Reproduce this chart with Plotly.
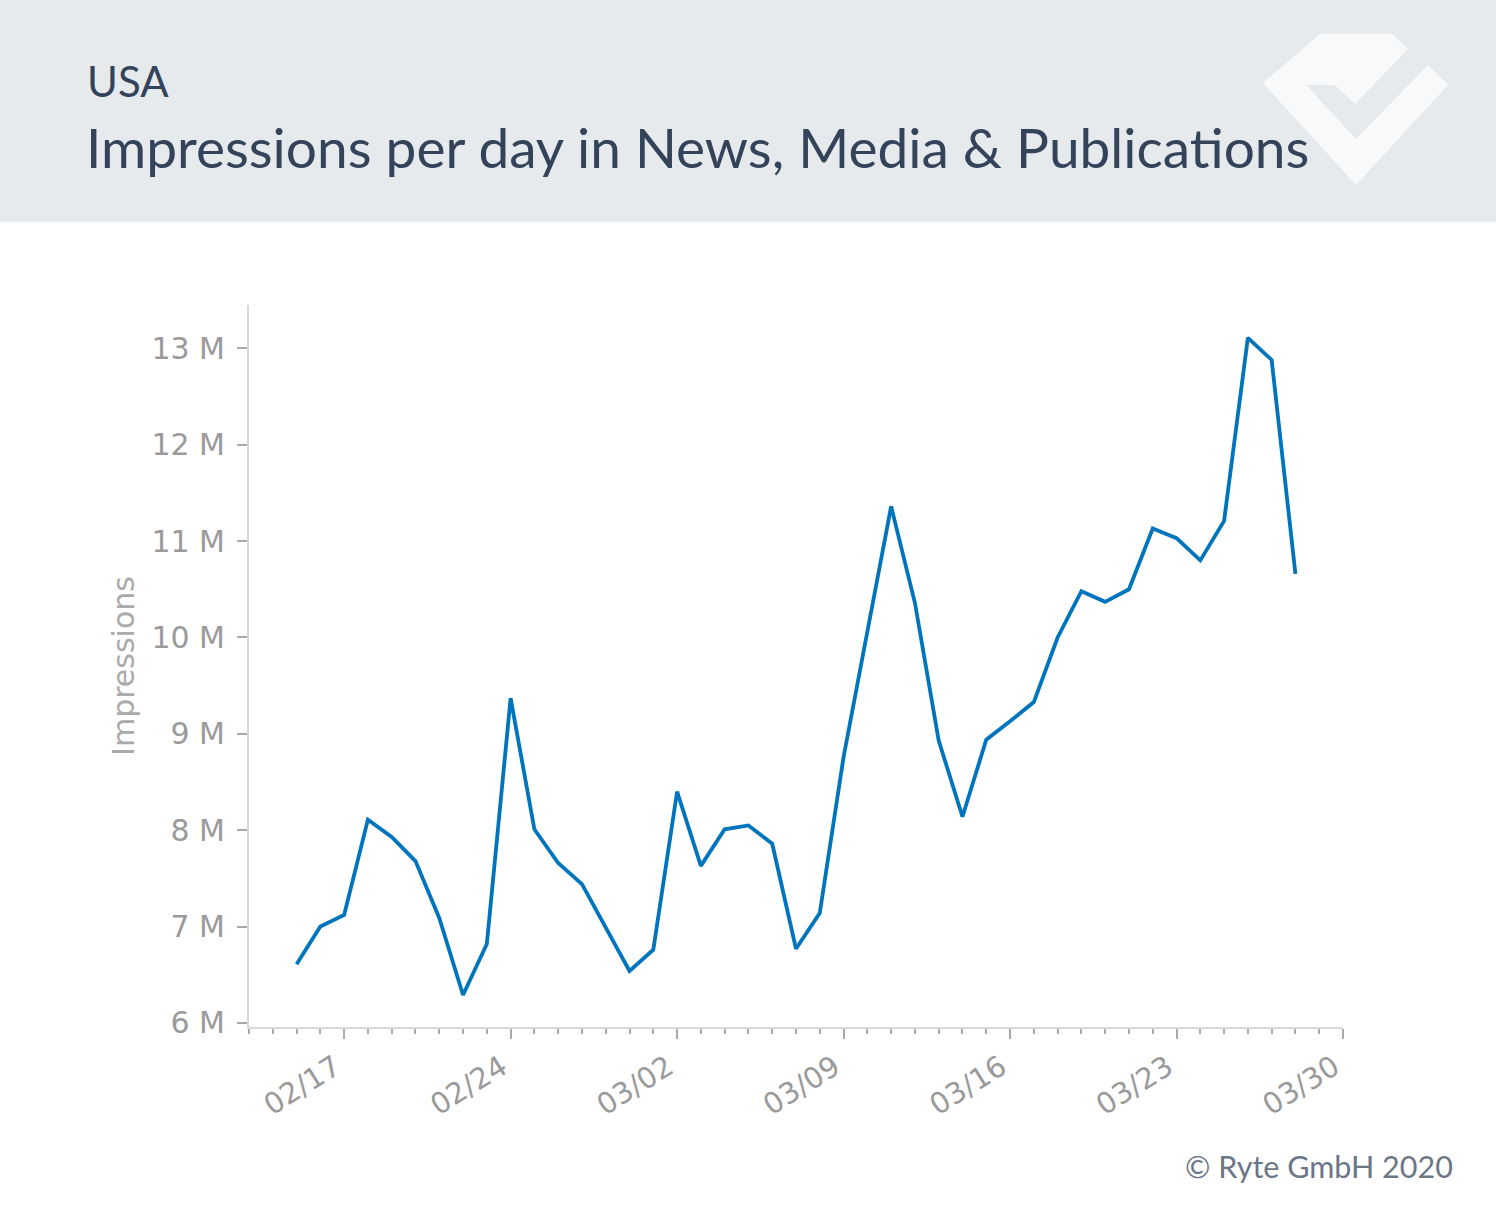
import plotly.graph_objects as go
import pandas as pd

dates = pd.date_range("2020-02-15", "2020-03-28", freq="D")
impressions_m = [6.61, 7.00, 7.12, 8.11, 7.93, 7.68, 7.09, 6.29, 6.82, 9.37,
                 8.01, 7.66, 7.44, 6.99, 6.54, 6.76, 8.40, 7.63, 8.01, 8.05,
                 7.86, 6.77, 7.14, 8.76, 10.04, 11.36, 10.36, 8.93, 8.14, 8.94,
                 9.13, 9.33, 10.00, 10.48, 10.37, 10.50, 11.13, 11.03, 10.80, 11.21,
                 13.11, 12.88, 10.66]
impressions = [v * 1e6 for v in impressions_m]

y_tick_vals = [6e6, 7e6, 8e6, 9e6, 10e6, 11e6, 12e6, 13e6]
y_tick_text = ["6 M", "7 M", "8 M", "9 M", "10 M", "11 M", "12 M", "13 M"]

W, H = 1496, 1205
L, R, T, B = 249, 1343, 305, 1027
pw, ph = R - L, B - T


def px(x):
    return (x - L) / pw


def py(y):
    return (B - y) / ph


fig = go.Figure()
fig.add_trace(go.Scatter(x=dates, y=impressions, mode="lines",
                         line=dict(color="#0074bd", width=3.8),
                         hoverinfo="x+y"))

tick_font = dict(family="DejaVu Sans", size=30, color="#9a9a9a")

fig.update_layout(
    width=W, height=H,
    margin=dict(l=L, r=W - R, t=T, b=H - B),
    paper_bgcolor="white", plot_bgcolor="white",
    showlegend=False,
    xaxis=dict(
        type="date",
        range=["2020-02-13", "2020-03-30"],
        tick0="2020-02-17", dtick=7 * 86400000,
        tickformat="%m/%d", tickangle=-32,
        ticks="outside", ticklen=10, tickwidth=2, tickcolor="#aaaaaa",
        tickfont=dict(family="DejaVu Sans", size=29, color="#9a9a9a"),
        ticklabelshift=-9,
        showgrid=False, zeroline=False,
        showline=True, linecolor="#d9d9d9", linewidth=2,
        minor=dict(ticks="outside", ticklen=5, tickwidth=1.5, tickcolor="#aaaaaa",
                   dtick=86400000, tick0="2020-02-17", showgrid=False),
    ),
    yaxis=dict(
        range=[5.958e6, 13.45e6],
        tickvals=y_tick_vals, ticktext=y_tick_text,
        ticks="outside", ticklen=10, tickwidth=2, tickcolor="#aaaaaa",
        tickfont=tick_font,
        ticklabelstandoff=6,
        showgrid=False, zeroline=False,
        showline=True, linecolor="#d9d9d9", linewidth=2,
        title=dict(text="Impressions", font=dict(family="DejaVu Sans", size=30, color="#aaaaaa"),
                   standoff=8),
    ),
)

# header band
fig.add_shape(type="rect", xref="paper", yref="paper",
              x0=px(0), x1=px(W), y0=py(0), y1=py(222),
              fillcolor="#e6eaed", line=dict(width=0), layer="below")

# logo
logo_pts = [(1320, 34), (1392, 34), (1408, 49), (1355, 104), (1335, 85), (1306, 85),
            (1356, 139), (1428, 65), (1448, 85), (1356, 185), (1263, 83)]
path = "M " + " L ".join(f"{px(x):.5f},{py(y):.5f}" for x, y in logo_pts) + " Z"
fig.add_shape(type="path", xref="paper", yref="paper", path=path,
              fillcolor="#f8f9fb", line=dict(width=0), layer="below")

head_font = "Lato"
fig.add_annotation(text="USA", xref="paper", yref="paper",
                   x=px(85), y=py(108), xanchor="left", yanchor="bottom",
                   showarrow=False,
                   font=dict(family=head_font, size=42, color="#33435a"))
fig.add_annotation(text="Impressions per day in News, Media & Publications",
                   xref="paper", yref="paper",
                   x=px(84), y=py(182), xanchor="left", yanchor="bottom",
                   showarrow=False,
                   font=dict(family=head_font, size=55, color="#33435a"))
fig.add_annotation(text="© Ryte GmbH 2020", xref="paper", yref="paper",
                   x=px(1455), y=py(1186), xanchor="right", yanchor="bottom",
                   showarrow=False,
                   font=dict(family=head_font, size=30.5, color="#6b7687"))

fig.write_html("out.html")
